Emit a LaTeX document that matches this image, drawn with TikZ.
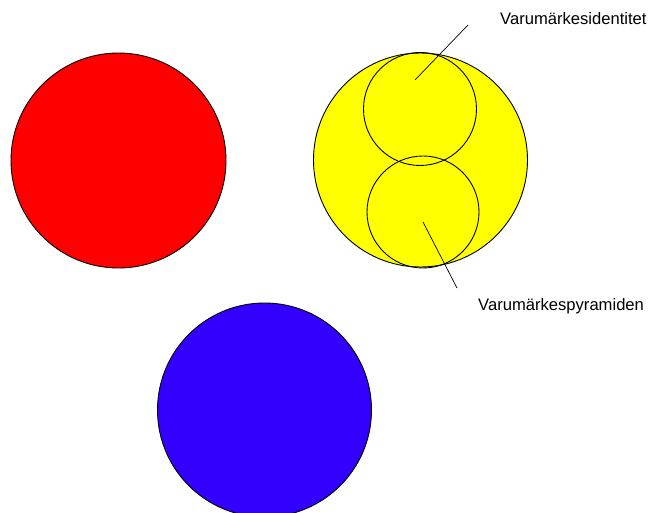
\documentclass[tikz,border=0pt]{standalone}
\usepackage{fontspec}
\setmainfont{Liberation Sans}
\usetikzlibrary{positioning}
\definecolor{BrandRed}{HTML}{FF0000}
\definecolor{BrandYellow}{HTML}{FFFF00}
\definecolor{BrandBlue}{HTML}{3300FF}

\tikzset{
  disc/.style={circle, draw=black, line width=0.9pt, inner sep=0pt},
  tag/.style={font=\fontsize{16.6}{20}\selectfont, inner sep=0pt, anchor=base west},
}

\begin{document}
\begin{tikzpicture}[x=1pt,y=-1pt]
  \useasboundingbox (0,0) rectangle (651,513);
  \node[disc, fill=BrandRed, minimum size=215pt] (red) at (118.5,160.5) {};
  \node[disc, fill=BrandYellow, minimum size=214pt] (yellow) at (420.5,160) {};
  \node[disc, minimum size=113pt] (ident) at (420,109) {};
  \node[disc, minimum size=112pt] (pyr) at (423,212) {};
  \node[disc, fill=BrandBlue, minimum size=214pt] (blue) at (264.5,410) {};
  \node[tag] (identlbl) at (500,25) {Varumärkesidentitet};
  \node[tag] (pyrlbl) at (478,310) {Varumärkespyramiden};
  \coordinate (identin) at (415,80);
  \coordinate (identout) at (468,25);
  \coordinate (pyrin) at (423,222);
  \coordinate (pyrout) at (457,288);
  \draw[line width=0.7pt] (identin) -- (identout);
  \draw[line width=0.7pt] (pyrin) -- (pyrout);
\end{tikzpicture}
\end{document}
